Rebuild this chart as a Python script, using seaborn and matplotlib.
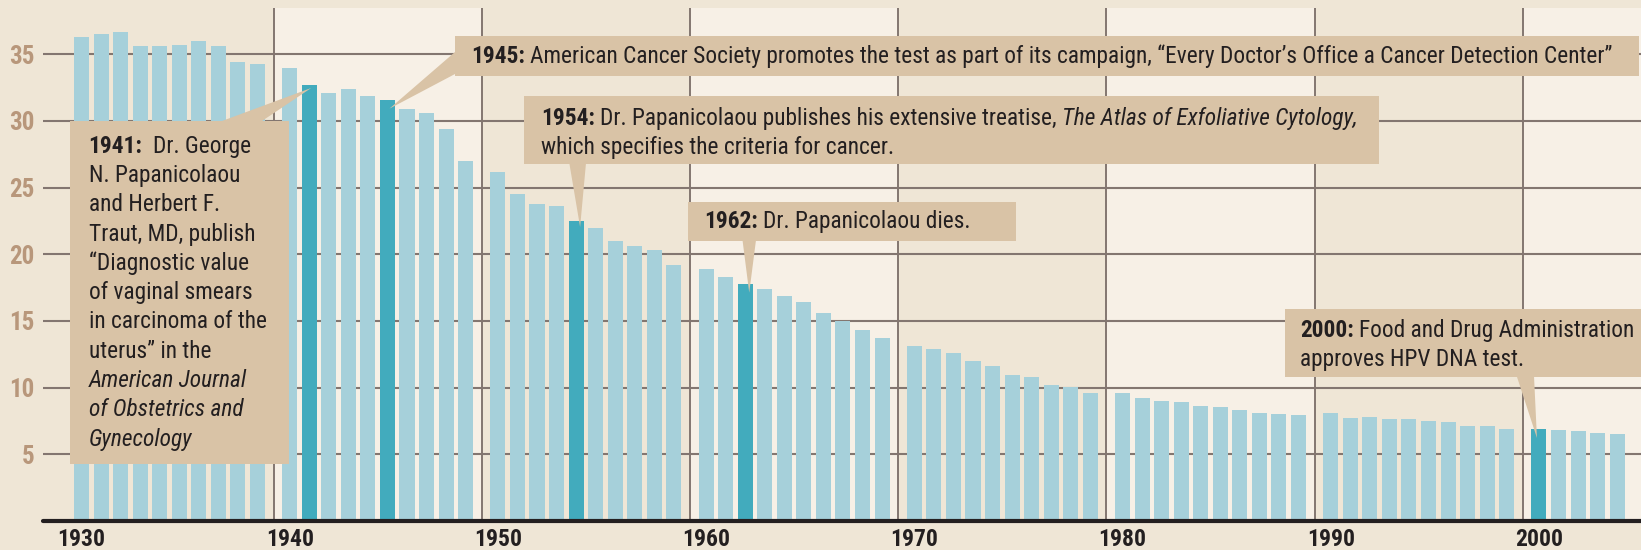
import matplotlib
matplotlib.use("Agg")
import matplotlib.pyplot as plt
from matplotlib.transforms import IdentityTransform
from matplotlib.patches import Rectangle, Polygon
from matplotlib import font_manager
import seaborn as sns
import pandas as pd

# ---------------- data ----------------
years = list(range(1930, 2005))
rates = [36.3, 36.5, 36.7, 35.6, 35.6, 35.7, 36.0, 35.6, 34.4, 34.3,
         34.0, 32.7, 32.1, 32.4, 31.9, 31.6, 30.9, 30.6, 29.4, 27.0,
         26.2, 24.5, 23.8, 23.6, 22.5, 22.0, 21.0, 20.6, 20.3, 19.2,
         18.9, 18.3, 17.8, 17.4, 16.9, 16.4, 15.6, 15.0, 14.3, 13.7,
         13.1, 12.9, 12.6, 12.0, 11.6, 10.95, 10.8, 10.2, 10.05, 9.6,
         9.6, 9.2, 9.0, 8.9, 8.6, 8.55, 8.3, 8.1, 8.0, 7.95,
         8.1, 7.7, 7.8, 7.65, 7.65, 7.5, 7.4, 7.1, 7.1, 6.9,
         6.9, 6.8, 6.75, 6.6, 6.5]
highlight_years = [1941, 1945, 1954, 1962, 2000]
y_ticks = [5, 10, 15, 20, 25, 30, 35]
x_tick_years = [1930, 1940, 1950, 1960, 1970, 1980, 1990, 2000]

note_1941 = [[("1941:", "bold", "normal"), ("  Dr. George", "normal", "normal")],
             [("N. Papanicolaou", "normal", "normal")],
             [("and Herbert F.", "normal", "normal")],
             [("Traut, MD, publish", "normal", "normal")],
             [("\u201cDiagnostic value", "normal", "normal")],
             [("of vaginal smears", "normal", "normal")],
             [("in carcinoma of the", "normal", "normal")],
             [("uterus\u201d in the", "normal", "normal")],
             [("American Journal", "normal", "italic")],
             [("of Obstetrics and", "normal", "italic")],
             [("Gynecology", "normal", "italic")]]
note_1945 = [[("1945:", "bold", "normal"),
              (" American Cancer Society promotes the test as part of its campaign, "
               "\u201cEvery Doctor\u2019s Office a Cancer Detection Center\u201d", "normal", "normal")]]
note_1954 = [[("1954:", "bold", "normal"),
              (" Dr. Papanicolaou publishes his extensive treatise, ", "normal", "normal"),
              ("The Atlas of Exfoliative Cytology,", "normal", "italic")],
             [("which specifies the criteria for cancer.", "normal", "normal")]]
note_1962 = [[("1962:", "bold", "normal"), (" Dr. Papanicolaou dies.", "normal", "normal")]]
note_2000 = [[("2000:", "bold", "normal"), (" Food and Drug Administration", "normal", "normal")],
             [("approves HPV DNA test.", "normal", "normal")]]

# ---------------- style ----------------
BG = "#efe6d6"
BAND = "#f7f0e6"
BOX = "#d9c3a6"
BAR = "#a6d0da"
HIL = "#42abbd"
GRID = "#837670"
YLAB = "#b8977b"
INK = "#231f20"

avail = {f.name for f in font_manager.fontManager.ttflist}
FAM = "DejaVu Sans"
for cand in ["Roboto Condensed", "Liberation Sans Narrow", "Roboto"]:
    if cand in avail:
        FAM = cand
        break

sns.set_theme(style="white")
plt.rcParams["font.family"] = [FAM, "DejaVu Sans"]

W, H = 1641, 550
fig = plt.figure(figsize=(W / 100, H / 100), dpi=100, facecolor=BG)

# axes in pixel layout
AX_L, AX_R, AX_T, AX_B = 43, 1641, 8, 521
ax = fig.add_axes([AX_L / W, (H - AX_B) / H, (AX_R - AX_L) / W, (AX_B - AX_T) / H])
ax.set_facecolor(BG)

GAP = 0.65
def pos_of(y):
    d = (y - 1930) // 10
    return (y - 1930) + GAP * d

df = pd.DataFrame({"year": years, "rate": rates})
df["pos"] = df["year"].map(pos_of)
df["kind"] = ["hi" if y in highlight_years else "lo" for y in years]

PITCH = 19.55
x0 = (AX_L - 81.5) / PITCH
x1 = (AX_R - 81.5) / PITCH
ymax = (AX_B - AX_T) / (66.67 / 5)

# decade bands & lines
decades = list(range(1930, 2010, 10))
bounds = []
for i, d in enumerate(decades):
    if i == 0:
        bounds.append(x0)
    else:
        bounds.append((pos_of(d - 1) + pos_of(d)) / 2)
bounds.append(x1)
for i in range(len(decades)):
    if i % 2 == 1:
        ax.axvspan(bounds[i], bounds[i + 1], color=BAND, zorder=0, lw=0)
for b in bounds[1:-1]:
    ax.axvline(b, color=GRID, lw=1.4, zorder=1)
for t in y_ticks:
    ax.axhline(t, color=GRID, lw=1.5, zorder=1)

sns.barplot(data=df, x="pos", y="rate", hue="kind", palette={"lo": BAR, "hi": HIL},
            native_scale=True, width=0.77, dodge=False, saturation=1, linewidth=0,
            legend=False, ax=ax, zorder=2)

ax.set_xlim(x0, x1)
ax.set_ylim(0, ymax)
ax.axhline(0, color=INK, lw=3, zorder=3, clip_on=False)
for s in ax.spines.values():
    s.set_visible(False)
ax.set_xlabel("")
ax.set_ylabel("")
ax.set_yticks(y_ticks)
ax.set_yticklabels([str(t) for t in y_ticks], fontsize=18, fontweight="bold", color=YLAB)
ax.set_xticks([pos_of(y) for y in x_tick_years])
ax.set_xticklabels([str(y) for y in x_tick_years], fontsize=17, fontweight="bold", color=INK)
ax.tick_params(axis="y", length=0, pad=6)
ax.tick_params(axis="x", length=0, pad=5)
ax.grid(False)

# ---------------- annotations ----------------
renderer = fig.canvas.get_renderer()
TXT = 16.8
idt = IdentityTransform()

def width_of(s, weight, style):
    t = fig.text(0, 0, s, transform=idt, fontsize=TXT, fontweight=weight, fontstyle=style)
    w = t.get_window_extent(renderer).width
    t.remove()
    return w

def space_w(weight, style):
    return width_of("x x", weight, style) - width_of("xx", weight, style)

def draw_runs(x, ybase, runs):
    for s, weight, style in runs:
        lead = len(s) - len(s.lstrip(" "))
        trail = len(s) - len(s.rstrip(" "))
        sw = space_w(weight, style)
        x += lead * sw
        core = s.strip(" ")
        t = fig.text(x, H - ybase, core, transform=idt, fontsize=TXT, fontweight=weight,
                     fontstyle=style, va="baseline", ha="left", color=INK, zorder=7)
        x = t.get_window_extent(renderer).x1 + trail * sw

def box(l, t, r, b):
    fig.patches.append(Rectangle((l, H - b), r - l, b - t, transform=idt, facecolor=BOX,
                                 edgecolor="none", zorder=5))

def pointer(p1, p2, year, dx=0, dy=6):
    r = rates[years.index(year)]
    tx, ty = ax.transData.transform((pos_of(year), r))
    tip = (tx + dx, ty - dy)
    fig.patches.append(Polygon([(p1[0], H - p1[1]), (p2[0], H - p2[1]), tip], closed=True,
                               transform=idt, facecolor=BOX, edgecolor="none", zorder=5))

def lines(x, y0, step, rows):
    for i, row in enumerate(rows):
        draw_runs(x, y0 + i * step, row)

# 1941
box(70, 121, 289, 464)
pointer((222, 121), (262, 121), 1941, dx=2, dy=3)
lines(88.6, 152.7, 29.3, note_1941)
# 1945
box(455, 36, 1639, 76)
pointer((455, 52), (455, 74), 1945, dx=2, dy=9)
lines(470.7, 63.3, 29.3, note_1945)
# 1954
box(524, 96, 1379, 163.5)
pointer((569.3, 163), (586, 163), 1954, dx=4, dy=6)
lines(540.7, 125, 29.0, note_1954)
# 1962
box(688, 202, 1016, 241)
pointer((742.5, 240), (756, 240), 1962, dx=4, dy=9)
lines(704, 228.3, 29.0, note_1962)
# 2000
box(1284.6, 309, 1645, 377)
pointer((1516.7, 376), (1534, 376), 2000, dx=-2, dy=9)
lines(1300, 336.7, 29.0, note_2000)

fig.savefig("out.png", dpi=100, facecolor=BG)
